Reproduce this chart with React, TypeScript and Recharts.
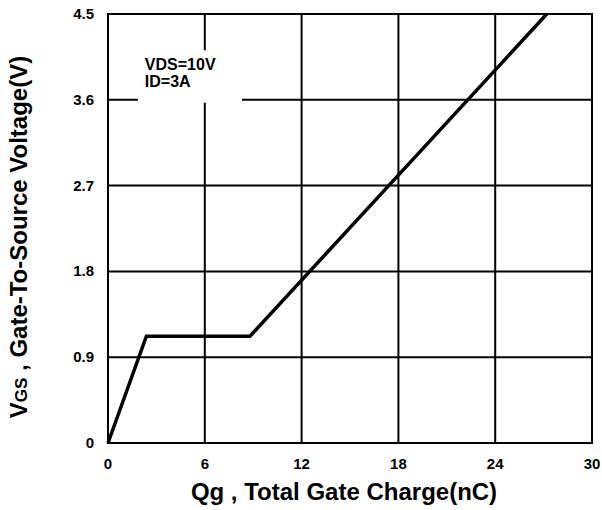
import React from "react";
import { LineChart, Line, XAxis, YAxis, CartesianGrid, ReferenceArea } from "recharts";

const charge = [0, 2.38, 8.8, 27.2];
const voltage = [0, 1.12, 1.12, 4.5];
const xTicks = [0, 6, 12, 18, 24, 30];
const yTicks = [0, 0.9, 1.8, 2.7, 3.6, 4.5];
const notes = ["VDS=10V", "ID=3A"];

const data = charge.map((q, i) => ({ q, v: voltage[i] }));

const FONT = "'Liberation Sans', Arial, Helvetica, sans-serif";

function XTick(props: any) {
  const { x, y, payload } = props;
  return (
    <text x={x} y={y + 18} textAnchor="middle" fontFamily={FONT} fontSize={15} fontWeight="bold" fill="#000">
      {payload.value}
    </text>
  );
}

function YTick(props: any) {
  const { x, y, payload } = props;
  const v = payload.value;
  return (
    <text x={x - 6} y={y + 5} textAnchor="end" fontFamily={FONT} fontSize={15} fontWeight="bold" fill="#000">
      {v === 0 ? "0" : v.toFixed(1)}
    </text>
  );
}

function NoteLabel(props: any) {
  const { viewBox } = props;
  const x = viewBox.x + 7;
  const y = viewBox.y + 20;
  return (
    <text fontFamily={FONT} fontSize={16} fontWeight="bold" fill="#000">
      <tspan x={x} y={y}>{notes[0]}</tspan>
      <tspan x={x} y={y + 17}>{notes[1]}</tspan>
    </text>
  );
}

function YTitle() {
  return (
    <text
      transform="translate(27, 237) rotate(-90)"
      textAnchor="middle"
      fontFamily={FONT}
      fontSize={24}
      fontWeight="bold"
      fill="#000"
    >
      V<tspan fontSize={17}>GS</tspan>
      <tspan> , Gate-To-Source Voltage(V)</tspan>
    </text>
  );
}

function XTitle() {
  return (
    <text x={344} y={500} textAnchor="middle" fontFamily={FONT} fontSize={24} fontWeight="bold" fill="#000">
      Qg , Total Gate Charge(nC)
    </text>
  );
}

export default function App() {
  return (
    <div style={{ position: "absolute", left: 0, top: 0, background: "#fff" }}>
      <LineChart width={602} height={510} data={data} margin={{ top: 14, right: 10, bottom: 0, left: 0 }}>
        <CartesianGrid stroke="#000" strokeWidth={2} />
        <XAxis
          dataKey="q"
          type="number"
          domain={[0, 30]}
          ticks={xTicks}
          tickLine={false}
          axisLine={false}
          height={67}
          tick={<XTick />}
          label={<XTitle />}
        />
        <YAxis
          type="number"
          domain={[0, 4.5]}
          ticks={yTicks}
          tickLine={false}
          axisLine={false}
          width={108}
          tick={<YTick />}
          label={<YTitle />}
        />
        <ReferenceArea x1={1.85} x2={8.3} y1={3.57} y2={4.12} fill="#fff" fillOpacity={1} stroke="none" label={<NoteLabel />} />
        <ReferenceArea x1={0} x2={30} y1={0} y2={4.5} fill="none" stroke="#000" strokeWidth={2} />
        <Line
          dataKey="v"
          type="linear"
          stroke="#000"
          strokeWidth={3.5}
          dot={false}
          isAnimationActive={false}
        />
      </LineChart>
    </div>
  );
}
